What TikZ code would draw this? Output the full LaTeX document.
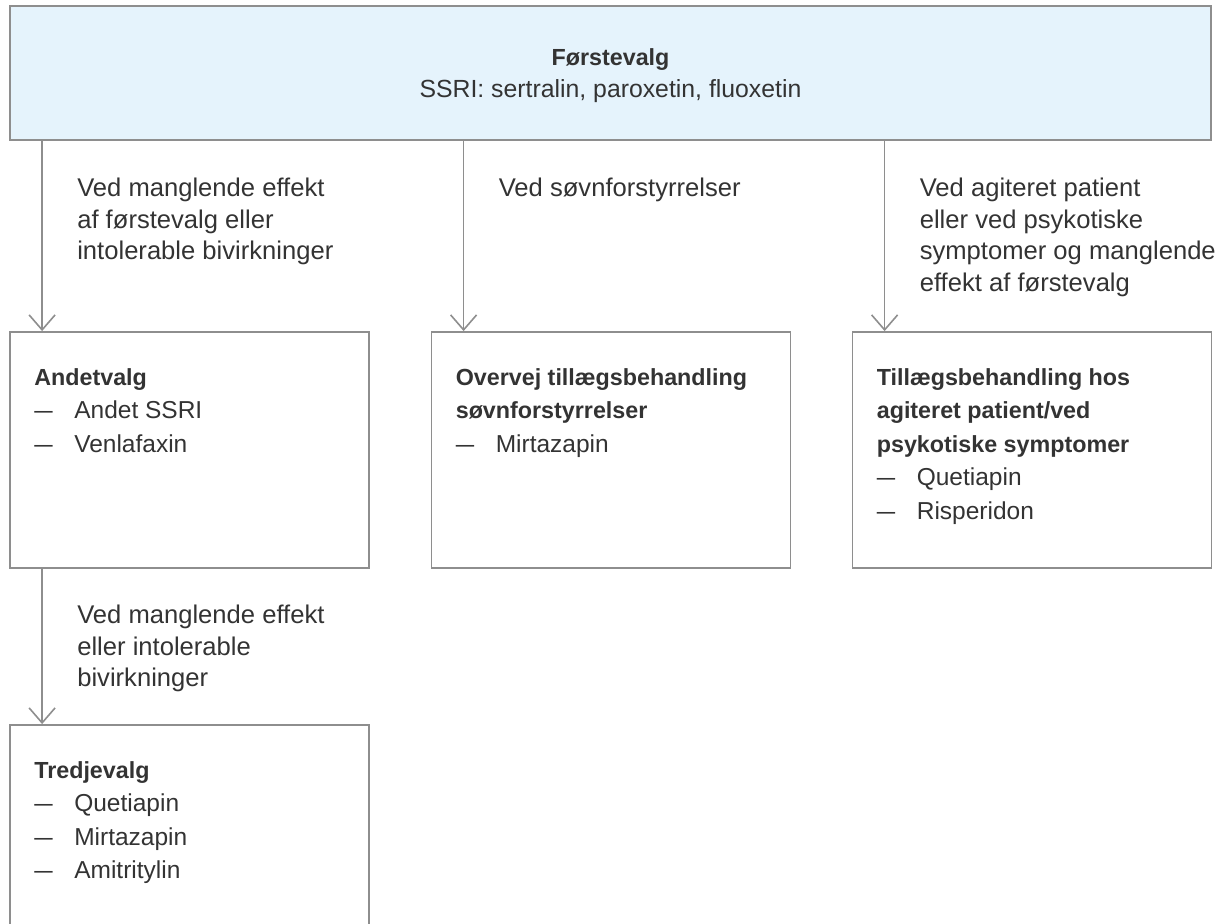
\documentclass[tikz,border=0pt]{standalone}
\usepackage{fontspec}
\setmainfont{Liberation Sans}
\usetikzlibrary{arrows.meta,positioning}

\definecolor{linegray}{HTML}{8E8E8E}
\definecolor{topblue}{HTML}{E5F3FC}
\definecolor{textgray}{HTML}{333333}
\newcommand{\punkt}[1]{\makebox[40pt][l]{\scalebox{1.35}[1]{--}}#1}
\newcommand{\titel}[1]{{\fontsize{23.3}{33.5}\selectfont\bfseries #1}}

\begin{document}
\begin{tikzpicture}[x=1pt,y=-1pt,
  box/.style={draw=linegray,line width=1.8pt,minimum width=359pt,minimum height=236pt,inner sep=0pt},
  txt/.style={anchor=north west,inner sep=0pt,align=left,text=textgray,font=\fontsize{24.5}{33.5}\selectfont},
  lbl/.style={txt,font=\fontsize{25.6}{31.5}\selectfont},
  arr/.style={draw=linegray,line width=1.6pt,-{Straight Barb[length=15pt,width=26pt,line width=1.6pt]}}
]
\useasboundingbox (0,0) rectangle (1225,923);
\clip (0,0) rectangle (1225,923);

% boxes
\node[box,fill=topblue,minimum width=1201pt,minimum height=134pt] (first) at (610.5,73) {};
\node[box] (andet) at (189.5,450) {};
\node[box] (overvej) at (611,450) {};
\node[box] (tillaeg) at (1032,450) {};
\node[box] (tredje) at (189.5,843) {};

% box texts
\node[txt,anchor=center,align=center,font=\fontsize{24.8}{32}\selectfont] (firsttxt) at ([yshift=-2.5pt]first.center)
  {\titel{Førstevalg}\\SSRI: sertralin, paroxetin, fluoxetin};
\node[txt] (andettxt) at ([shift={(25,37)}]andet.north west)
  {\titel{Andetvalg}\\\punkt{Andet SSRI}\\\punkt{Venlafaxin}};
\node[txt] (overvejtxt) at ([shift={(25,37)}]overvej.north west)
  {\titel{Overvej tillægsbehandling}\\\titel{søvnforstyrrelser}\\\punkt{Mirtazapin}};
\node[txt] (tillaegtxt) at ([shift={(25,37)}]tillaeg.north west)
  {\titel{Tillægsbehandling hos}\\\titel{agiteret patient/ved}\\\titel{psykotiske symptomer}\\\punkt{Quetiapin}\\\punkt{Risperidon}};
\node[txt] (tredjetxt) at ([shift={(25,37)}]tredje.north west)
  {\titel{Tredjevalg}\\\punkt{Quetiapin}\\\punkt{Mirtazapin}\\\punkt{Amitritylin}};

% arrows
\coordinate (andettop) at ([xshift=33pt]andet.north west);
\coordinate (overvejtop) at ([xshift=33pt]overvej.north west);
\coordinate (tillaegtop) at ([xshift=33pt]tillaeg.north west);
\coordinate (tredjetop) at ([xshift=33pt]tredje.north west);

\draw[arr] (andettop |- first.south) -- (andettop);
\draw[arr] (overvejtop |- first.south) -- (overvejtop);
\draw[arr] (tillaegtop |- first.south) -- (tillaegtop);
\draw[arr] (tredjetop |- andet.south) -- (tredjetop);

% arrow labels
\node[lbl] (lblandet) at ([shift={(35,37)}]andettop |- first.south)
  {Ved manglende effekt\\af førstevalg eller\\intolerable bivirkninger};
\node[lbl] (lblovervej) at ([shift={(35,37)}]overvejtop |- first.south)
  {Ved søvnforstyrrelser};
\node[lbl] (lbltillaeg) at ([shift={(35,37)}]tillaegtop |- first.south)
  {Ved agiteret patient\\eller ved psykotiske\\symptomer og manglende\\effekt af førstevalg};
\node[lbl] (lbltredje) at ([shift={(35,36)}]tredjetop |- andet.south)
  {Ved manglende effekt\\eller intolerable\\bivirkninger};

\end{tikzpicture}
\end{document}
